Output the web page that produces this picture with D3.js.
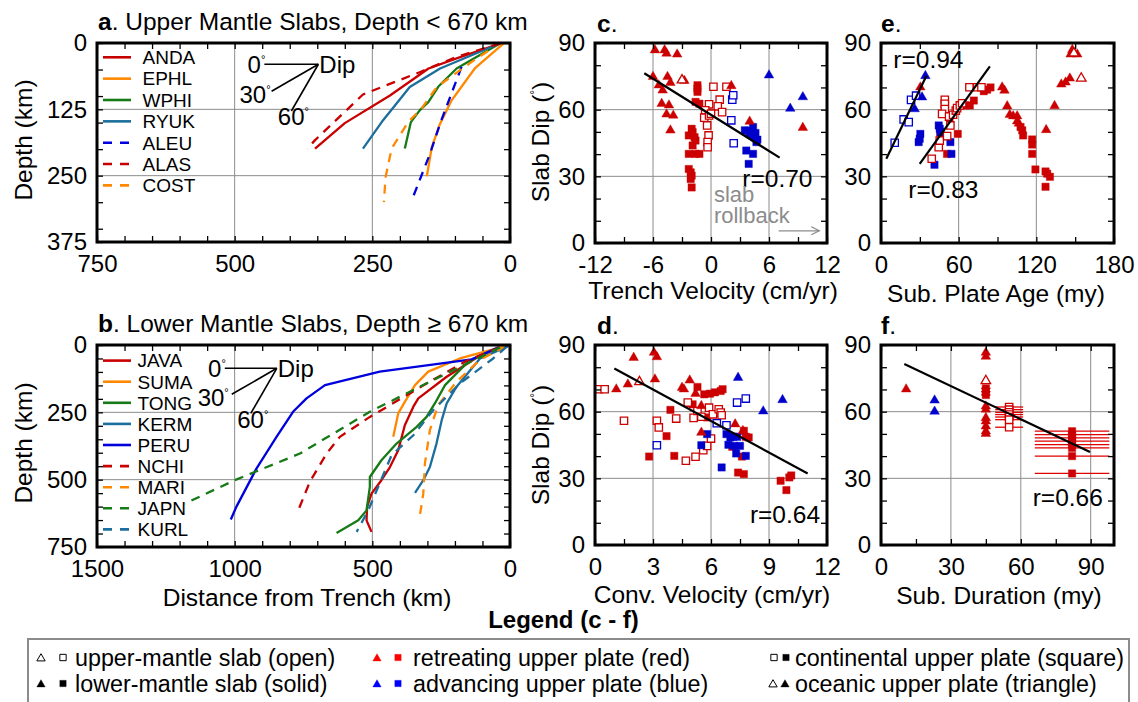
<!DOCTYPE html>
<html><head><meta charset="utf-8">
<script src="https://cdn.jsdelivr.net/npm/d3@7"></script>
<style>
body{margin:0;background:#fff;}
svg{display:block;font-family:"Liberation Sans",Arial,Helvetica,sans-serif;}
</style></head><body>
<script>
// ================= DATA =================
// Panel a : upper-mantle slabs  [distance from trench km, depth km]
const upperSlabNames  = ["ANDA","EPHL","WPHI","RYUK","ALEU","ALAS","COST"];
const upperSlabColors = ["#c80000","#ff8800","#167a16","#1c6e9c","#0000dd","#c80000","#ff8800"];
const upperSlabDashed = [false,false,false,false,true,true,true];
const slabANDA = [[18,1],[97,29],[148,48],[218,99],[300,151],[354,199]];
const slabEPHL = [[12,1],[64,48],[106,108],[127,152],[142,196],[151,251]];
const slabWPHI = [[20,2],[97,48],[130,82],[148,111],[164,127],[180,149],[191,199]];
const slabRYUK = [[21,2],[127,48],[182,83],[233,149],[267,199]];
const slabALEU = [[88,45],[127,152],[145,208],[176,290]];
const slabALAS = [[18,1],[97,26],[164,55],[267,97],[354,183],[368,199]];
const slabCOST = [[40,15],[70,36],[133,83],[161,124],[185,149],[215,199],[226,253],[229,300]];

// Panel b : lower-mantle slabs
const lowerSlabNames  = ["JAVA","SUMA","TONG","KERM","PERU","NCHI","MARI","JAPN","KURL"];
const lowerSlabColors = ["#c80000","#ff8800","#167a16","#1c6e9c","#0000dd","#c80000","#ff8800","#167a16","#1c6e9c"];
const lowerSlabDashed = [false,false,false,false,false,true,true,true,true];
const slabJAVA = [[36,8],[110,40],[230,118],[333,198],[351,229],[382,298],[406,391],[436,453],[467,502],[503,552],[519,601],[521,651],[503,694]];
const slabSUMA = [[24,6],[182,50],[297,99],[345,149],[382,211],[406,254],[424,341]];
const slabTONG = [[42,10],[150,60],[236,149],[273,217],[303,267],[339,304],[412,366],[467,428],[509,490],[509,527],[521,614],[551,651],[630,698]];
const slabKERM = [[6,4],[109,50],[194,155],[230,217],[248,279],[267,366],[291,453],[315,502],[345,549]];
const slabPERU = [[42,9],[139,53],[473,99],[672,149],[739,198],[788,248],[848,341],[921,459],[994,601],[1014,648]];
const slabNCHI = [[40,10],[160,60],[291,136],[509,267],[618,341],[666,403],[727,508],[769,614]];
const slabMARI = [[18,6],[109,55],[194,136],[261,223],[291,316],[309,440],[315,552],[330,651]];
const slabJAPN = [[36,9],[267,124],[509,248],[763,403],[1000,502],[1181,589]];
const slabKURL = [[12,6],[61,50],[182,143],[279,242],[351,335],[430,409],[479,527],[515,614],[557,694]];

const dipAngles = [0,30,60];

// Panel c : trench velocity (cm/yr) vs slab dip (deg)
const cRedTri      = [[-5.8,86.8],[-4.8,86.8],[-4.6,85.3],[-3.5,84.9],[-6.0,74.8],[-4.5,74.8],[-4.2,72.1],[-5.4,71.0],[-5.0,68.7],[-2.75,73.0],[-5.1,62.7],[-4.35,62.0],[-4.6,57.9],[-3.9,57.4],[-4.2,50.7],[2.1,70.7],[4.0,54.7],[9.5,51.9]];
const cRedTriOpen  = [[-3.0,73.3]];
const cBlueTri     = [[6.0,75.5],[8.2,60.5],[9.5,65.7]];
const cRedSq       = [[-1.4,71.0],[-1.4,69.5],[-1.4,68.0],[-1.6,63.5],[-1.2,62.7],[-2.0,51.4],[-1.9,49.9],[-2.3,48.4],[-1.7,47.6],[-1.6,46.1],[-1.9,43.9],[-2.3,40.1],[-1.6,40.1],[-1.2,40.1],[-2.3,33.3],[-2.1,31.8],[-2.0,30.3],[-2.1,28.8],[-2.0,25.0]];
const cRedSqOpen   = [[0.25,70.3],[1.6,70.3],[0.9,64.5],[0.7,61.5],[1.15,58.9],[-0.2,62.4],[-0.6,59.7],[-0.7,56.4],[-0.2,57.4],[-0.4,52.9],[-0.25,48.4],[-0.35,45.4],[-0.35,43.1],[0,58.2]];
const cBlueSqOpen  = [[2.2,64.5],[2.3,66.5],[2.1,55.2],[2.35,44.9]];
const cBlueSq      = [[3.5,50.7],[4.35,52.2],[4.0,49.1],[4.5,47.6],[4.7,45.4],[3.65,41.6],[4.35,40.1],[3.9,35.6],[4.2,48.5],[4.6,49.5],[3.8,50.5],[4.8,46.5]];
const cFit = [[-6.9,76.4],[7.1,38.4]];

// Panel d : convergence velocity (cm/yr) vs slab dip
const dRedTri      = [[1.1,70.1],[1.7,72.3],[2.0,84.3],[3.05,86.6],[3.2,84.6],[3.1,74.6],[4.5,70.8],[4.6,70.1],[4.9,74.1],[5.2,68.1],[5.5,62.6],[5.5,50.6],[7.25,54.4],[7.65,51.4]];
const dRedTriOpen  = [[2.3,73.4]];
const dBlueTri     = [[7.4,75.3],[8.7,60.2],[9.7,65.3]];
const dRedSq       = [[2.8,39.8],[3.9,60.8],[3.7,49.0],[4.1,40.1],[5.3,71.1],[5.05,63.3],[5.65,67.8],[5.95,68.1],[6.2,68.7],[6.5,69.3],[6.6,70.1],[5.8,57.4],[7.1,44.2],[7.4,32.6],[7.7,31.9],[7.6,39.8],[7.7,51.4],[7.8,48.7],[7.95,48.4],[9.6,28.9],[9.9,24.7],[10.05,30.4],[10.15,31.3]];
const dRedSqOpen   = [[0.2,70.1],[0.5,70.1],[1.5,55.9],[3.2,55.9],[3.3,52.9],[4.2,56.9],[4.7,37.9],[4.8,64.1],[5.1,57.2],[5.2,39.7],[5.3,60.3],[5.5,57.7],[5.6,42.7],[5.8,44.6],[5.9,61.8],[6.0,47.9],[6.1,58.8],[6.4,61.1],[6.5,59.6],[6.55,58.4]];
const dBlueSqOpen  = [[3.2,44.9],[6.3,54.8],[6.8,53.9],[7.35,64.1],[7.8,65.9]];
const dBlueSq      = [[5.8,49.9],[5.5,44.9],[6.8,49.9],[7.0,48.4],[7.15,48.7],[7.35,48.7],[6.9,45.1],[7.2,44.6],[7.5,44.6],[7.3,41.2],[7.8,40.1],[6.55,34.9]];
const dFit = [[1.0,79.4],[11.0,32.2]];

// Panel e : subducting plate age (my) vs slab dip
const eRedTri      = [[30.4,70.1],[93.6,70.1],[95.4,68.6],[97.5,61.6],[99.5,57.7],[102.1,57.1],[105.2,57.1],[105.2,54.8],[106.5,53.8],[127.6,50.9],[134.1,61.7],[139.3,71.4],[142.6,72.3],[145.9,74.1],[146.5,84.9],[151.6,84.9],[147.8,86.9]];
const eRedTriOpen  = [[154.7,74.1],[149.0,85.4]];
const eBlueTri     = [[34.3,75.2],[31.7,65.6],[26.0,60.3]];
const eRedSq       = [[45.9,49.1],[51.0,40.1],[59.3,49.1],[65.2,61.9],[68.6,61.9],[71.7,64.1],[79.4,68.3],[82.0,69.0],[84.6,70.0],[107.8,52.2],[109.1,50.7],[109.8,48.4],[116.8,46.6],[116.8,44.3],[116.8,40.1],[119.3,33.1],[127.1,32.2],[128.4,31.2],[130.5,29.8],[127.1,25.3]];
const eRedSqOpen   = [[39.2,37.9],[44.6,43.1],[45.4,46.1],[51.1,48.1],[49.3,64.4],[49.3,62.6],[49.3,60.3],[47.2,58.1],[52.6,56.9],[55.7,57.7],[57.8,59.6],[58.8,60.7],[60.9,61.9],[62.7,62.9],[53.6,52.9],[68.3,70.1],[74.3,70.1],[77.6,70.1]];
const eBlueSqOpen  = [[10.6,45.1],[17.5,55.6],[21.4,54.4],[23.2,64.4],[27.1,66.3]];
const eBlueSq      = [[30.4,49.1],[29.9,46.9],[29.1,45.4],[44.6,52.9],[45.4,51.4],[45.9,49.9],[53.6,45.4],[54.4,40.1],[41.3,35.2],[49.8,48.1]];
const eFitUpper = [[4.1,37.9],[35.1,75.3]];
const eFitLower = [[29.9,35.6],[84.1,79.5]];

// Panel f : subduction duration (my) vs slab dip  [x, dip, x-error]
const fRedTri      = [[10.8,70.1],[45,86.6],[45,84.8],[45,62.4],[45,61.0],[45,57.2],[45,55.7],[45,53.4],[45,51.2],[45,50.1]];
const fRedTriOpen  = [[45,73.9]];
const fBlueTri     = [[23,65.1],[23,60.1]];
const fRedSq       = [[45,70.5,2],[45,69.0,2],[45,67.5,2],[82,51.2,16],[82,49.7,16],[82,48.2,16],[82,46.7,16],[82,45.2,16],[82,43.7,16],[82,40.0,16],[82,32.2,16]];
const fRedSqOpen   = [[55,62.1,6],[55,60.9,6],[55,59.7,6],[55,58.7,6],[55,57.6,6],[55,56.4,6],[55,53.0,6]];
const fFit = [[10,81.5],[89.7,41.8]];

// ================= DRAWING =================
const W = 1138, H = 702, FS = 24, FT = 24.5;
const RED = "#cc0000", BLUE = "#0000cc";
const svg = d3.select("body").append("svg").attr("width", W).attr("height", H);

const ax = d3.scaleLinear().domain([750,0]).range([97,510]);
const ay = d3.scaleLinear().domain([0,375]).range([43,242]);
const bx = d3.scaleLinear().domain([1500,0]).range([97,510]);
const by = d3.scaleLinear().domain([0,750]).range([345,547]);
const cx = d3.scaleLinear().domain([-12,12]).range([595,827]);
const cy = d3.scaleLinear().domain([0,90]).range([243,43]);
const dx = d3.scaleLinear().domain([0,12]).range([595,827]);
const dy = d3.scaleLinear().domain([0,90]).range([545,345]);
const ex = d3.scaleLinear().domain([0,180]).range([881,1114]);
const ey = d3.scaleLinear().domain([0,90]).range([243,43]);
const fx = d3.scaleLinear().domain([0,100]).range([881,1114]);
const fy = d3.scaleLinear().domain([0,90]).range([545,345]);

function extent(s){ const r = s.range(); return [Math.min(r[0],r[1]), Math.max(r[0],r[1])]; }

function grid(x, y, gx, gy){
  const [l,r] = extent(x), [t,b] = extent(y);
  const g = svg.append("g").attr("stroke","#8c8c8c").attr("stroke-width",1);
  g.selectAll("line.gx").data(gx).join("line").attr("class","gx")
    .attr("x1",d=>x(d)).attr("x2",d=>x(d)).attr("y1",t).attr("y2",b);
  g.selectAll("line.gy").data(gy).join("line").attr("class","gy")
    .attr("y1",d=>y(d)).attr("y2",d=>y(d)).attr("x1",l).attr("x2",r);
}

function frame(x, y, xt, xl, yt, yl){
  const [l,r] = extent(x), [t,b] = extent(y);
  const fx_ = d => xl.includes(d) ? String(d) : "";
  const fy_ = d => yl.includes(d) ? String(d) : "";
  const style = sel => {
    sel.select(".domain").remove();
    sel.selectAll("line").attr("stroke","#000").attr("stroke-width",1.3);
    sel.selectAll("text").attr("font-size",FS).attr("fill","#000")
      .attr("font-family","'Liberation Sans',Arial,Helvetica,sans-serif");
  };
  svg.append("g").attr("transform",`translate(0,${b})`)
    .call(d3.axisBottom(x).tickValues(xt).tickFormat(fx_).tickSizeInner(-6).tickSizeOuter(0).tickPadding(13)).call(style);
  svg.append("g").attr("transform",`translate(0,${t})`)
    .call(d3.axisTop(x).tickValues(xt).tickFormat("").tickSizeInner(-6).tickSizeOuter(0)).call(style);
  svg.append("g").attr("transform",`translate(${l},0)`)
    .call(d3.axisLeft(y).tickValues(yt).tickFormat(fy_).tickSizeInner(-6).tickSizeOuter(0).tickPadding(10)).call(style);
  svg.append("g").attr("transform",`translate(${r},0)`)
    .call(d3.axisRight(y).tickValues(yt).tickFormat("").tickSizeInner(-6).tickSizeOuter(0)).call(style);
  svg.append("rect").attr("x",l).attr("y",t).attr("width",r-l).attr("height",b-t)
    .attr("fill","none").attr("stroke","#000").attr("stroke-width",3);
}

function text(x, y, str, opts={}){
  const t = svg.append("text").attr("x",x).attr("y",y).attr("font-size",opts.size||FT)
    .attr("text-anchor",opts.anchor||"start").attr("fill",opts.fill||"#000");
  if (opts.weight) t.attr("font-weight",opts.weight);
  if (opts.dy) t.attr("dy",opts.dy);
  t.text(str);
  return t;
}

function panelLabel(x, y, letter, rest){
  const t = svg.append("text").attr("x",x).attr("y",y).attr("font-size",FT);
  t.append("tspan").attr("font-weight","bold").text(letter);
  t.append("tspan").text(rest);
}

function yLabel(x, y, withDeg, str){
  const t = svg.append("text").attr("transform",`translate(${x},${y}) rotate(-90)`)
    .attr("text-anchor","middle").attr("font-size",FT);
  if (withDeg){
    t.append("tspan").text("Slab Dip (");
    t.append("tspan").attr("font-size",12).attr("dy",-10).text("°");
    t.append("tspan").attr("dy",10).text(")");
  } else t.text(str);
}

function slabs(x, y, paths, colors, dashed, names, legY0, legDY, legTextX){
  const line = d3.line().x(d=>x(d[0])).y(d=>y(d[1]));
  paths.forEach((p,i)=>{
    svg.append("path").attr("d",line(p)).attr("fill","none").attr("stroke",colors[i])
      .attr("stroke-width",2.3).attr("stroke-dasharray",dashed[i]?"9,7":null)
      .attr("stroke-linejoin","round");
  });
  names.forEach((n,i)=>{
    const yy = legY0 + i*legDY;
    svg.append("line").attr("x1",103).attr("x2",131).attr("y1",yy).attr("y2",yy)
      .attr("stroke",colors[i]).attr("stroke-width",2.6).attr("stroke-dasharray",dashed[i]?"9,8":null);
    svg.append("text").attr("x",legTextX).attr("y",yy).attr("dy","0.36em").attr("font-size",19).text(n);
  });
}

function dipGlyph(vx, vy, len, lab30dx, lab60dy){
  const g = svg.append("g");
  dipAngles.forEach(a=>{
    const r = a*Math.PI/180;
    const exx = vx - len*Math.cos(r), eyy = vy + len*Math.sin(r);
    g.append("line").attr("x1",vx).attr("y1",vy).attr("x2",exx).attr("y2",eyy)
      .attr("stroke","#000").attr("stroke-width",1.6);
    let t;
    if (a===0){
      t = g.append("text").attr("x",exx+1).attr("y",eyy+8.5).attr("text-anchor","end");
    } else if (a===30){
      t = g.append("text").attr("x",exx+lab30dx).attr("y",eyy+11.5).attr("text-anchor","end");
    } else {
      t = g.append("text").attr("x",exx+2).attr("y",eyy+lab60dy).attr("text-anchor","middle");
    }
    t.attr("font-size",FS);
    t.append("tspan").text(String(a));
    t.append("tspan").attr("font-size",11).attr("dy",-10).text("°");
  });
  g.append("text").attr("x",vx+1).attr("y",vy).attr("dy","0.36em").attr("font-size",FS).text("Dip");
}

function scatter(x, y, data, shape, color, filled, size){
  const sym = d3.symbol().type(shape==="tri"?d3.symbolTriangle:d3.symbolSquare)
    .size(size || (shape==="tri"?40:54));
  svg.append("g").selectAll("path").data(data).join("path")
    .attr("transform",d=>`translate(${x(d[0])},${y(d[1])})`)
    .attr("d",sym())
    .attr("fill",filled?color:"#fff")
    .attr("stroke",color).attr("stroke-width",filled?0.4:1.3);
}

function errbars(x, y, data){
  svg.append("g").selectAll("line").data(data).join("line")
    .attr("x1",d=>x(d[0]-d[2])).attr("x2",d=>x(d[0]+d[2]))
    .attr("y1",d=>y(d[1])).attr("y2",d=>y(d[1]))
    .attr("stroke","#e00000").attr("stroke-width",1.3);
}

function fit(x, y, pts){
  svg.append("path").attr("d",d3.line().x(d=>x(d[0])).y(d=>y(d[1]))(pts))
    .attr("stroke","#000").attr("stroke-width",2.2).attr("fill","none");
}

// ---------- Panel a ----------
grid(ax, ay, [500,250], [125,250]);
slabs(ax, ay, [slabANDA,slabEPHL,slabWPHI,slabRYUK,slabALEU,slabALAS,slabCOST],
      upperSlabColors, upperSlabDashed, upperSlabNames, 57.3, 21.35, 142.5);
dipGlyph(ax(348), ay(40), 54, -1, 14);
frame(ax, ay, d3.range(0,751,50), [750,500,250,0], [0,50,100,125,150,200,250,300,350,375], [0,125,250,375]);
panelLabel(98, 29.5, "a", ". Upper Mantle Slabs, Depth < 670 km");
yLabel(32, 140, false, "Depth (km)");

// ---------- Panel b ----------
grid(bx, by, [1000,500], [250,500]);
slabs(bx, by, [slabJAVA,slabSUMA,slabTONG,slabKERM,slabPERU,slabNCHI,slabMARI,slabJAPN,slabKURL],
      lowerSlabColors, lowerSlabDashed, lowerSlabNames, 360.6, 21.1, 137.5);
dipGlyph(bx(847), by(86.5), 52, -3, 15);
frame(bx, by, d3.range(0,1501,100), [1500,1000,500,0], d3.range(0,751,50), [0,250,500,750]);
panelLabel(98, 331.5, "b", ". Lower Mantle Slabs, Depth ≥ 670 km");
yLabel(32, 443, false, "Depth (km)");
text(307, 606, "Distance from Trench (km)", {anchor:"middle"});

// ---------- Panel c ----------
grid(cx, cy, [-6,0,6], [30,60]);
scatter(cx, cy, cRedSq, "sq", RED, true);
scatter(cx, cy, cRedSqOpen, "sq", RED, false);
scatter(cx, cy, cBlueSq, "sq", BLUE, true);
scatter(cx, cy, cBlueSqOpen, "sq", BLUE, false);
scatter(cx, cy, cRedTri, "tri", RED, true);
scatter(cx, cy, cRedTriOpen, "tri", RED, false);
scatter(cx, cy, cBlueTri, "tri", BLUE, true);
fit(cx, cy, cFit);
text(cx(10.5), cy(25.2), "r=0.70", {anchor:"end"});
text(cx(0.3), cy(18.6), "slab", {fill:"#8c8c8c", size:22});
text(cx(0.3), cy(8.8), "rollback", {fill:"#8c8c8c", size:22});
svg.append("line").attr("x1",cx(7)).attr("x2",cx(11.2)).attr("y1",cy(5.5)).attr("y2",cy(5.5))
  .attr("stroke","#8c8c8c").attr("stroke-width",1.3);
svg.append("path").attr("d",`M${cx(11.2)-8},${cy(5.5)-4}L${cx(11.2)},${cy(5.5)}L${cx(11.2)-8},${cy(5.5)+4}`)
  .attr("fill","none").attr("stroke","#8c8c8c").attr("stroke-width",1.3);
frame(cx, cy, d3.range(-12,12.01,3), [-12,-6,0,6,12], d3.range(0,91,10), [0,30,60,90]);
panelLabel(597, 31.5, "c", ".");
yLabel(549, 142, true);
text(713, 299, "Trench Velocity (cm/yr)", {anchor:"middle"});

// ---------- Panel d ----------
grid(dx, dy, [3,6,9], [30,60]);
scatter(dx, dy, dRedSq, "sq", RED, true);
scatter(dx, dy, dRedSqOpen, "sq", RED, false);
scatter(dx, dy, dBlueSq, "sq", BLUE, true);
scatter(dx, dy, dBlueSqOpen, "sq", BLUE, false);
scatter(dx, dy, dRedTri, "tri", RED, true);
scatter(dx, dy, dRedTriOpen, "tri", RED, false);
scatter(dx, dy, dBlueTri, "tri", BLUE, true);
fit(dx, dy, dFit);
text(dx(11.64), dy(10), "r=0.64", {anchor:"end"});
frame(dx, dy, d3.range(0,12.01,1.5), [0,3,6,9,12], d3.range(0,91,10), [0,30,60,90]);
panelLabel(597, 334, "d", ".");
yLabel(549, 445, true);
text(712, 603, "Conv. Velocity (cm/yr)", {anchor:"middle"});

// ---------- Panel e ----------
grid(ex, ey, [60,120], [30,60]);
scatter(ex, ey, eRedSq, "sq", RED, true);
scatter(ex, ey, eBlueSq, "sq", BLUE, true);
scatter(ex, ey, eRedSqOpen, "sq", RED, false);
scatter(ex, ey, eBlueSqOpen, "sq", BLUE, false);
scatter(ex, ey, eRedTri, "tri", RED, true);
scatter(ex, ey, eRedTriOpen, "tri", RED, false);
scatter(ex, ey, eBlueTri, "tri", BLUE, true);
fit(ex, ey, eFitUpper);
fit(ex, ey, eFitLower);
text(ex(9.5), ey(78.6), "r=0.94");
text(ex(21.1), ey(20.1), "r=0.83");
frame(ex, ey, d3.range(0,181,30), [0,60,120,180], d3.range(0,91,10), [0,30,60,90]);
panelLabel(881, 31.5, "e", ".");
text(996, 302, "Sub. Plate Age (my)", {anchor:"middle"});

// ---------- Panel f ----------
grid(fx, fy, [30,60,90], [30,60]);
errbars(fx, fy, fRedSq);
errbars(fx, fy, fRedSqOpen);
scatter(fx, fy, fRedSq, "sq", RED, true);
scatter(fx, fy, fRedSqOpen, "sq", RED, false);
scatter(fx, fy, fRedTri, "tri", RED, true);
scatter(fx, fy, fRedTriOpen, "tri", RED, false);
scatter(fx, fy, fBlueTri, "tri", BLUE, true);
fit(fx, fy, fFit);
text(fx(65.1), fy(17.5), "r=0.66");
frame(fx, fy, d3.range(0,91,15), [0,30,60,90], d3.range(0,91,10), [0,30,60,90]);
panelLabel(881, 334, "f", ".");
text(999, 604, "Sub. Duration (my)", {anchor:"middle"});

// ---------- Legend (c - f) ----------
const FL = 23.3;
text(563.5, 628, "Legend (c - f)", {anchor:"middle", weight:"bold", size:24});
svg.append("rect").attr("x",28).attr("y",639).attr("width",1101).attr("height",80)
  .attr("fill","none").attr("stroke","#8c8c8c").attr("stroke-width",2);
const legRows = [657.5, 683.5];
function legSym(x, y, shape, color, filled){
  const sym = d3.symbol().type(shape==="tri"?d3.symbolTriangle:d3.symbolSquare).size(shape==="tri"?30:40);
  svg.append("path").attr("transform",`translate(${x},${y+ (shape==="tri"?1:0)})`).attr("d",sym())
    .attr("fill",filled?color:"#fff").attr("stroke",color).attr("stroke-width",filled?0.4:1);
}
legSym(41, legRows[0], "tri", "#000", false); legSym(63, legRows[0], "sq", "#000", false);
text(75, legRows[0], "upper-mantle slab (open)", {dy:"0.35em", size:FL});
legSym(41, legRows[1], "tri", "#000", true); legSym(63, legRows[1], "sq", "#000", true);
text(75, legRows[1], "lower-mantle slab (solid)", {dy:"0.35em", size:FL});
legSym(377, legRows[0], "tri", "#ff0000", true); legSym(398, legRows[0], "sq", "#ff0000", true);
text(413, legRows[0], "retreating upper plate (red)", {dy:"0.35em", size:FL});
legSym(377, legRows[1], "tri", "#0000ff", true); legSym(398, legRows[1], "sq", "#0000ff", true);
text(413, legRows[1], "advancing upper plate (blue)", {dy:"0.35em", size:FL});
legSym(774, legRows[0], "sq", "#000", false); legSym(786, legRows[0], "sq", "#000", true);
text(795, legRows[0], "continental upper plate (square)", {dy:"0.35em", size:FL});
legSym(773, legRows[1], "tri", "#000", false); legSym(785, legRows[1], "tri", "#000", true);
text(795, legRows[1], "oceanic upper plate (triangle)", {dy:"0.35em", size:FL});
</script>
</body></html>
